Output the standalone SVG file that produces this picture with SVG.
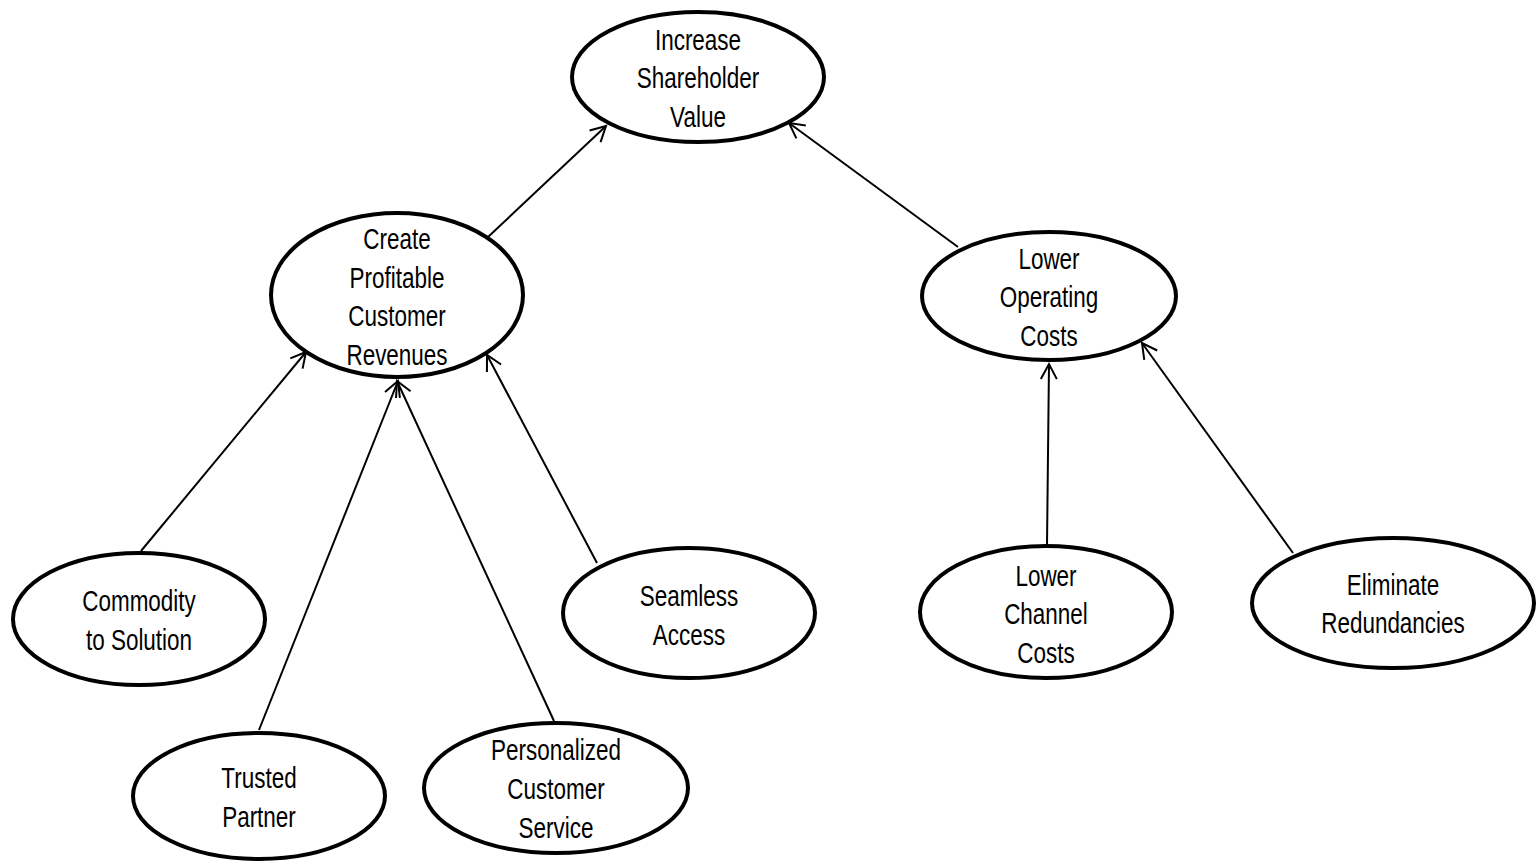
<svg xmlns="http://www.w3.org/2000/svg" width="1537" height="862" viewBox="0 0 1537 862">
  <style>
    .node ellipse { fill: #ffffff; stroke: #000000; stroke-width: 4; }
    .node text { font-family: "Liberation Sans", Arial, sans-serif; font-size: 29px; fill: #000000; text-anchor: middle; }
    .edges line { stroke: #000000; stroke-width: 2; marker-end: url(#arrow); }
  </style>
  <defs>
    <marker id="arrow" markerUnits="userSpaceOnUse" markerWidth="20" markerHeight="20" viewBox="0 0 20 20" refX="17" refY="10" orient="auto">
      <path d="M2,2 L17,10 L2,18" fill="none" stroke="#000" stroke-width="2"/>
    </marker>
  </defs>
  <rect width="1537" height="862" fill="#ffffff"/>

  <g class="edges" id="connectors">
    <line x1="488" y1="237" x2="606" y2="126"/>
    <line x1="958" y1="247" x2="789" y2="123"/>
    <line x1="141" y1="551" x2="306" y2="352"/>
    <line x1="259" y1="730" x2="398" y2="381"/>
    <line x1="554" y1="721" x2="397" y2="381"/>
    <line x1="597" y1="563" x2="487" y2="355"/>
    <line x1="1047" y1="545" x2="1049" y2="364"/>
    <line x1="1293" y1="553" x2="1142" y2="343"/>
  </g>

  <!-- labels use a narrowed sans: each label group is centred on its node and squeezed horizontally -->
  <g class="node" id="increase-shareholder-value">
    <ellipse cx="698" cy="77" rx="126" ry="65"/>
    <g transform="translate(698 0) scale(0.775 1)">
      <text x="0" y="50">Increase</text>
      <text x="0" y="88">Shareholder</text>
      <text x="0" y="127">Value</text>
    </g>
  </g>

  <g class="node" id="create-profitable-customer-revenues">
    <ellipse cx="397" cy="295" rx="126" ry="82"/>
    <g transform="translate(397 0) scale(0.775 1)">
      <text x="0" y="249">Create</text>
      <text x="0" y="288">Profitable</text>
      <text x="0" y="326">Customer</text>
      <text x="0" y="365">Revenues</text>
    </g>
  </g>

  <g class="node" id="lower-operating-costs">
    <ellipse cx="1049" cy="296" rx="127" ry="64"/>
    <g transform="translate(1049 0) scale(0.775 1)">
      <text x="0" y="269">Lower</text>
      <text x="0" y="307">Operating</text>
      <text x="0" y="346">Costs</text>
    </g>
  </g>

  <g class="node" id="commodity-to-solution">
    <ellipse cx="139" cy="619" rx="126" ry="66"/>
    <g transform="translate(139 0) scale(0.775 1)">
      <text x="0" y="611">Commodity</text>
      <text x="0" y="650">to Solution</text>
    </g>
  </g>

  <g class="node" id="seamless-access">
    <ellipse cx="689" cy="613" rx="126" ry="65"/>
    <g transform="translate(689 0) scale(0.775 1)">
      <text x="0" y="606">Seamless</text>
      <text x="0" y="645">Access</text>
    </g>
  </g>

  <g class="node" id="lower-channel-costs">
    <ellipse cx="1046" cy="612" rx="126" ry="66"/>
    <g transform="translate(1046 0) scale(0.775 1)">
      <text x="0" y="586">Lower</text>
      <text x="0" y="624">Channel</text>
      <text x="0" y="663">Costs</text>
    </g>
  </g>

  <g class="node" id="eliminate-redundancies">
    <ellipse cx="1393" cy="603" rx="141" ry="65"/>
    <g transform="translate(1393 0) scale(0.775 1)">
      <text x="0" y="595">Eliminate</text>
      <text x="0" y="633">Redundancies</text>
    </g>
  </g>

  <g class="node" id="trusted-partner">
    <ellipse cx="259" cy="796" rx="126" ry="63"/>
    <g transform="translate(259 0) scale(0.775 1)">
      <text x="0" y="788">Trusted</text>
      <text x="0" y="827">Partner</text>
    </g>
  </g>

  <g class="node" id="personalized-customer-service">
    <ellipse cx="556" cy="788" rx="132" ry="65"/>
    <g transform="translate(556 0) scale(0.775 1)">
      <text x="0" y="760">Personalized</text>
      <text x="0" y="799">Customer</text>
      <text x="0" y="838">Service</text>
    </g>
  </g>
</svg>
